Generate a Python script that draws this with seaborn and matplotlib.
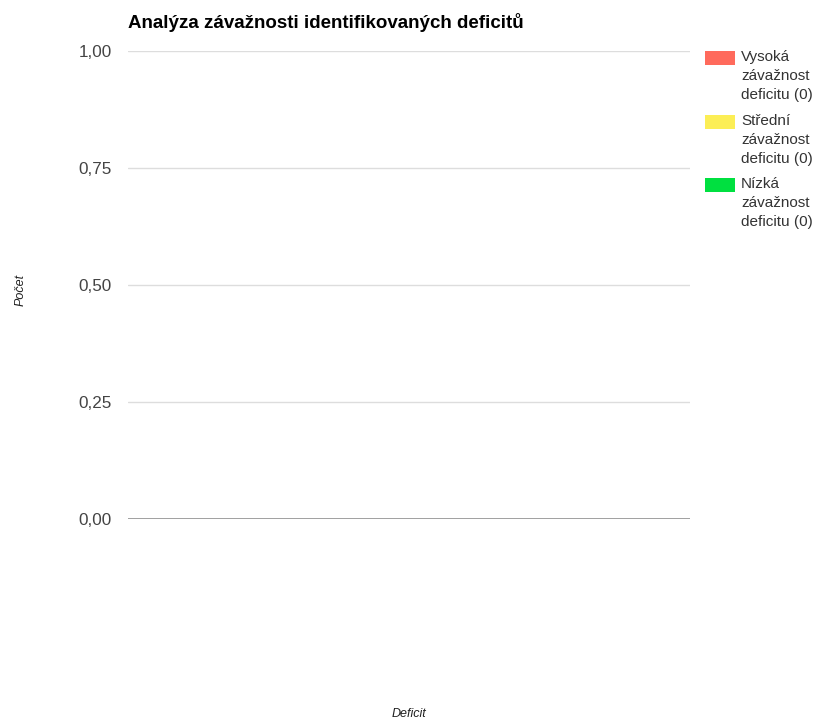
import pandas as pd
import matplotlib
matplotlib.use("Agg")
import matplotlib.pyplot as plt
from matplotlib.patches import Rectangle
from matplotlib.ticker import FuncFormatter
import seaborn as sns

# data - graf je prazdny, zadne deficity nebyly identifikovany
deficits = []
severity_names = ["Vysoká závažnost deficitu", "Střední závažnost deficitu", "Nízká závažnost deficitu"]
severity_colors = ["#ff6a5c", "#fcee55", "#00e040"]
high_counts = []
mid_counts = []
low_counts = []
y_ticks = [0.0, 0.25, 0.5, 0.75, 1.0]

sns.set_theme(style="white")
plt.rcParams['font.family'] = ['Liberation Sans', 'DejaVu Sans']

W, H = 813, 721
fig = plt.figure(figsize=(W / 100, H / 100), dpi=100)
ax = fig.add_axes([128 / W, 1 - 519 / H, (690 - 128) / W, (519 - 51) / H])

rows = []
for name, vals in zip(severity_names, [high_counts, mid_counts, low_counts]):
    for d, v in zip(deficits, vals):
        rows.append({"Deficit": d, "Počet": v, "Závažnost": name})
df = pd.DataFrame(rows, columns=["Deficit", "Počet", "Závažnost"])
if len(df) > 0:
    sns.barplot(data=df, x="Deficit", y="Počet", hue="Závažnost",
                palette=severity_colors, ax=ax, legend=False)

ax.set_ylim(0, 1)
ax.set_xlim(0, 1)
ax.set_yticks(y_ticks)
ax.yaxis.set_major_formatter(FuncFormatter(lambda v, p: f"{v:.2f}".replace(".", ",")))
ax.set_xticks([])
ax.tick_params(axis="y", length=0, pad=11.5, labelsize=12.3, labelcolor="#444444")
ax.grid(axis="y", color="#dddddd", linewidth=1)
ax.set_axisbelow(True)
for s in ["top", "right", "left", "bottom"]:
    ax.spines[s].set_visible(False)
ax.axhline(0, color="#999999", linewidth=1.3)

ax.set_ylabel("Počet", fontsize=9, style="italic", color="#222222")
ax.yaxis.set_label_coords(-0.18, 0.49)
ax.set_xlabel("Deficit", fontsize=9, style="italic", color="#222222")
ax.xaxis.set_label_coords(0.5, -0.404)

fig.text(128 / W, 1 - 23 / H, "Analýza závažnosti identifikovaných deficitů",
         fontsize=13.5, fontweight="bold", va="center", ha="left", color="#000000")

# legenda vpravo, barevny ctverecek zarovnany s prvnim radkem textu
counts = [sum(high_counts), sum(mid_counts), sum(low_counts)]
tops = [51, 115, 178]
for name, col, c, top in zip(severity_names, severity_colors, counts, tops):
    label = name.replace(" ", "\n") + f" ({c})"
    fig.patches.append(Rectangle((705 / W, 1 - (top + 14) / H), 30 / W, 14 / H,
                                 transform=fig.transFigure, facecolor=col, edgecolor="none"))
    fig.text(741 / W, 1 - (top - 1) / H, label, fontsize=11, va="top", ha="left",
             color="#333333", linespacing=1.45)

fig.savefig("out.png", dpi=100)
